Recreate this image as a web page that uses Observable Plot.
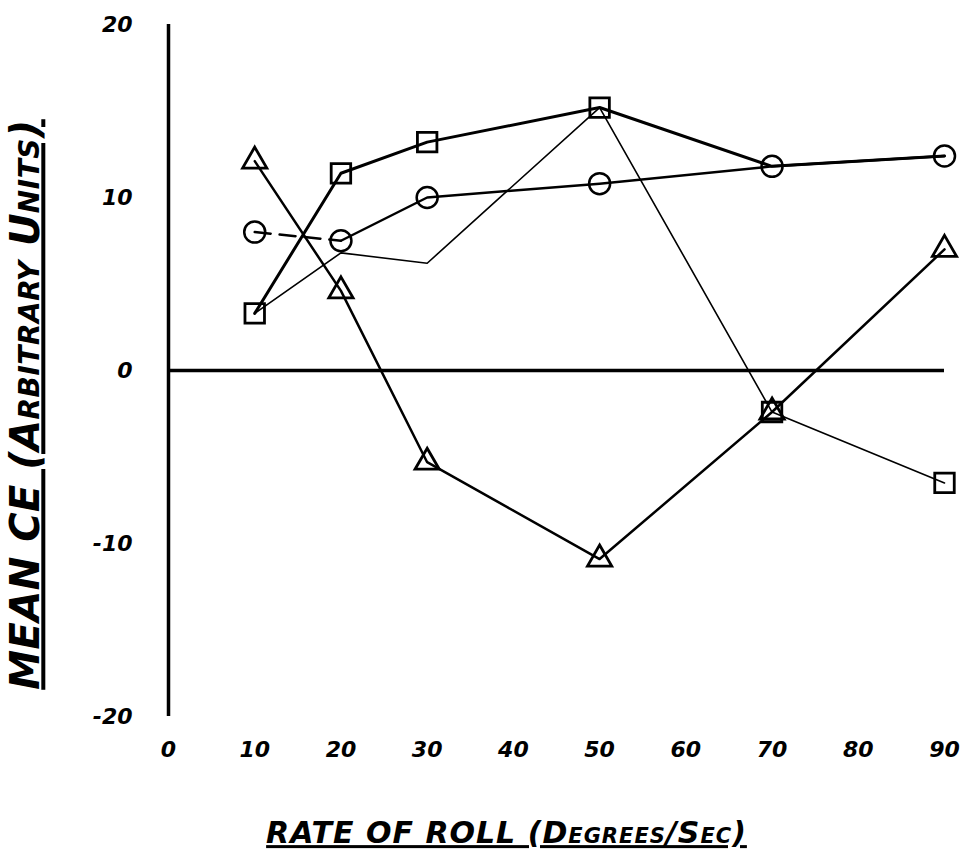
<!DOCTYPE html>
<html>
<head>
<meta charset="utf-8">
<script src="https://cdn.jsdelivr.net/npm/d3@7"></script>
<script src="https://cdn.jsdelivr.net/npm/@observablehq/plot@0.6"></script>
<style>
  html, body { margin: 0; padding: 0; background: #fff; }
  .ulabel text { text-decoration: underline; text-decoration-thickness: 3px; text-underline-offset: 7px; }
  .xlabel text { letter-spacing: 1px; }
  .ylabel text { letter-spacing: 0.5px; }
</style>
</head>
<body>
<div id="chart"></div>
<script>
// Rate of roll (degrees/sec)
const rates = [10, 20, 30, 50, 70, 90];
// Mean CE (arbitrary units)
const circleSeries   = [8.0, 7.5, 10.0, 10.8, 11.8, 12.4];
const upperSquare    = [3.3, 11.4, 13.2, 15.2, 11.8, 12.4];
const lowerSquare    = [3.3, 6.8, 6.2, 15.2, -2.4, -6.5];
const triangleSeries = [12.1, 4.6, -5.3, -10.9, -2.4, 7.0];
// which points carry a square marker
const upperMarked = [true, true, true, true, false, false];
const lowerMarked = [false, false, false, false, true, true];

const xTicks = [0, 10, 20, 30, 40, 50, 60, 70, 80, 90];
const yTicks = [-20, -10, 0, 10, 20];
const xTitle = "RATE OF ROLL (Degrees/Sec)";
const yTitle = "MEAN CE (Arbitrary Units)";

const toRows = (vals, flags) => rates.map((r, i) => ({x: r, y: vals[i], m: flags ? flags[i] : true}));
const circ = toRows(circleSeries);
const up = toRows(upperSquare, upperMarked);
const low = toRows(lowerSquare, lowerMarked);
const tri = toRows(triangleSeries);

const font = "DejaVu Sans, sans-serif";
const tickStyle = {fontSize: 22, fontWeight: "bold", fontStyle: "italic", fontFamily: font};

const chart = Plot.plot({
  width: 969,
  height: 858,
  marginLeft: 168,
  marginRight: 25,
  marginTop: 24,
  marginBottom: 142,
  style: {background: "#fff", color: "#000", fontFamily: font},
  x: {domain: [0, 90]},
  y: {domain: [-20, 20]},
  marks: [
    Plot.axisX(xTicks, {tickSize: 0, tickPadding: 25, ...tickStyle, label: null}),
    Plot.axisY(yTicks, {tickSize: 0, tickPadding: 36, tickFormat: d => String(d), ...tickStyle, label: null}),
    Plot.ruleX([0], {y1: -20, y2: 20, strokeWidth: 3.5}),
    Plot.ruleY([0], {x1: 0, x2: 90, strokeWidth: 3.5}),
    // circle series: first segment dashed
    Plot.line(circ.slice(0, 2), {x: "x", y: "y", strokeWidth: 2.5, strokeDasharray: "16,9"}),
    Plot.line(circ.slice(1), {x: "x", y: "y", strokeWidth: 2.5}),
    Plot.line(up, {x: "x", y: "y", strokeWidth: 3}),
    Plot.line(low, {x: "x", y: "y", strokeWidth: 1.6}),
    Plot.line(tri, {x: "x", y: "y", strokeWidth: 2.5}),
    Plot.dot(circ, {x: "x", y: "y", symbol: "circle", r: 10.5, stroke: "#000", strokeWidth: 2.5, fill: "none"}),
    Plot.dot(up.filter(d => d.m), {x: "x", y: "y", symbol: "square", r: 11, stroke: "#000", strokeWidth: 2.8, fill: "none"}),
    Plot.dot(low.filter(d => d.m), {x: "x", y: "y", symbol: "square", r: 11, stroke: "#000", strokeWidth: 2.8, fill: "none"}),
    Plot.dot(tri, {x: "x", y: "y", symbol: "triangle", r: 9, stroke: "#000", strokeWidth: 2.8, fill: "none"}),
    Plot.text([xTitle], {frameAnchor: "bottom", textAnchor: "middle", lineAnchor: "middle", dx: -50, dy: 117, fontSize: 30, fontWeight: "bold", fontStyle: "italic", fontVariant: "small-caps", fontFamily: font, className: "ulabel xlabel"}),
    Plot.text([yTitle], {frameAnchor: "left", textAnchor: "middle", lineAnchor: "middle", rotate: -90, dx: -142, dy: 34, fontSize: 40, fontWeight: "bold", fontStyle: "italic", fontVariant: "small-caps", fontFamily: font, className: "ulabel ylabel"})
  ]
});
document.getElementById("chart").appendChild(chart);
</script>
</body>
</html>
